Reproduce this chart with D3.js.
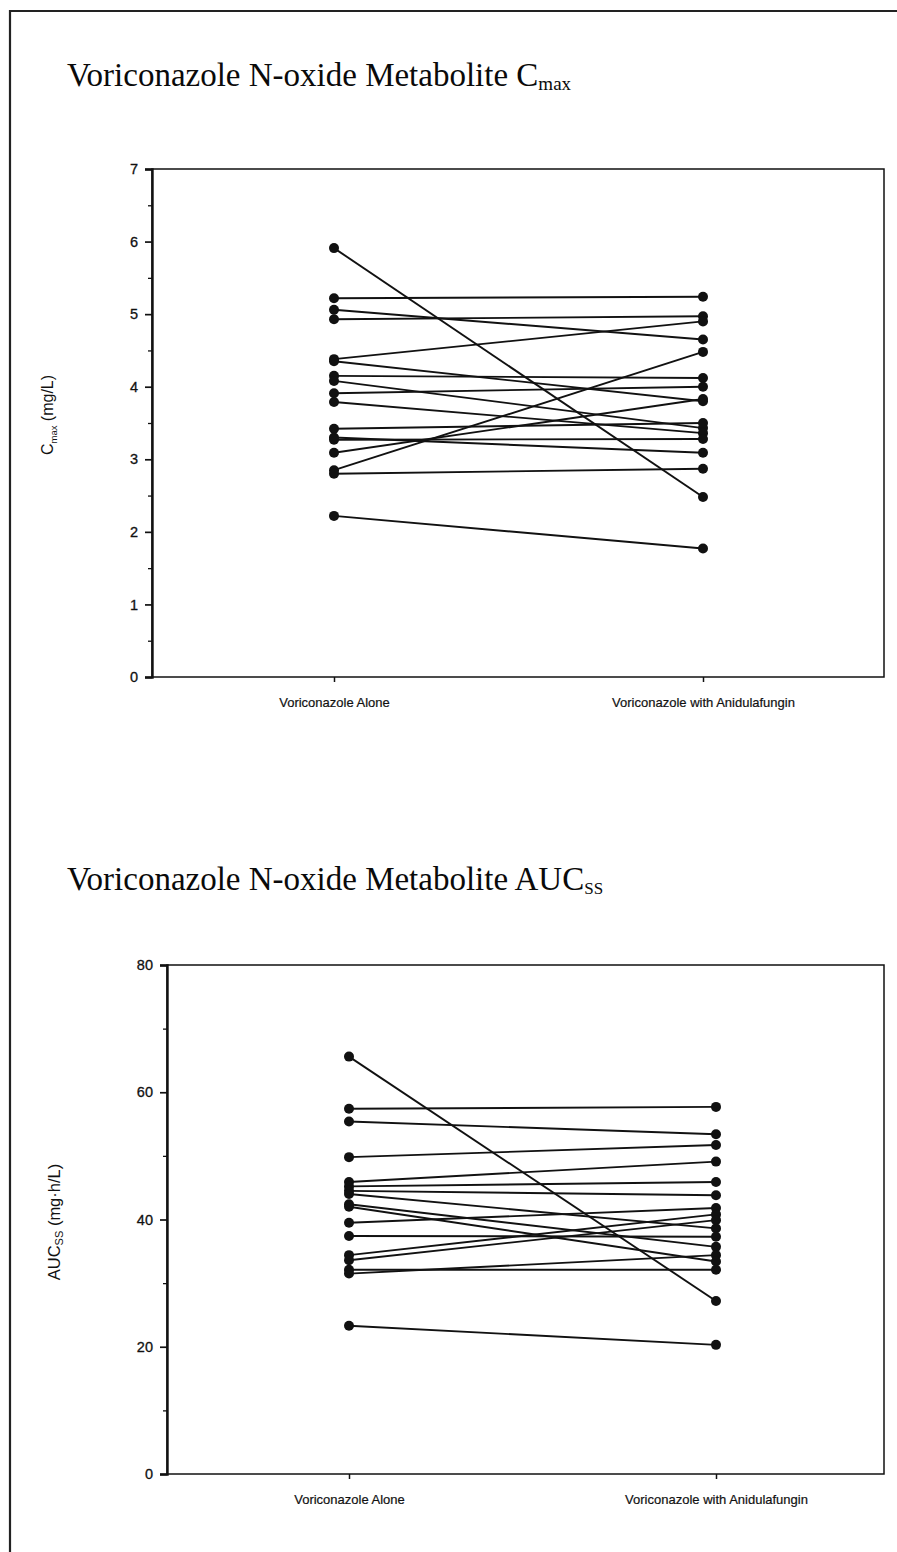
<!DOCTYPE html>
<html>
<head>
<meta charset="utf-8">
<script src="https://cdn.jsdelivr.net/npm/d3@7"></script>
<style>
  html, body { margin: 0; padding: 0; background: #fff; }
  svg { display: block; }
</style>
</head>
<body>
<svg id="chart" width="897" height="1552"></svg>
<script>
// Paired subject values: voriconazole N-oxide metabolite, alone vs. with anidulafungin
const categories = ["Voriconazole Alone", "Voriconazole with Anidulafungin"];

const cmaxAlone   = [5.91, 5.22, 5.06, 4.93, 4.38, 4.35, 4.15, 4.08, 3.91, 3.79, 3.42, 3.30, 3.27, 3.09, 2.85, 2.80, 2.22];
const cmaxWithAnd = [2.48, 5.24, 4.65, 4.97, 4.90, 3.80, 4.12, 3.43, 4.00, 3.36, 3.50, 3.09, 3.28, 3.83, 4.48, 2.87, 1.77];

const aucAlone    = [65.6, 57.4, 55.4, 49.8, 45.9, 45.2, 44.5, 44.0, 42.4, 39.5, 37.4, 34.4, 33.6, 32.1, 31.5, 42.0, 23.3];
const aucWithAnd  = [27.2, 57.7, 53.4, 51.7, 49.1, 45.9, 43.8, 38.6, 35.7, 41.8, 37.3, 40.8, 39.9, 32.1, 34.4, 33.4, 20.3];

const cmaxTicks = [0, 1, 2, 3, 4, 5, 6, 7];
const cmaxMinor = [0.5, 1.5, 2.5, 3.5, 4.5, 5.5, 6.5];
const aucTicks  = [0, 20, 40, 60, 80];
const aucMinor  = [10, 30, 50, 70];

const svg = d3.select("#chart");
const ink = "#111";
const sans = "'Liberation Sans', Arial, sans-serif";

// outer frame of the figure
svg.append("path")
  .attr("d", "M10,1552 V11 H897")
  .attr("fill", "none").attr("stroke", "#222").attr("stroke-width", 2.2);

function title(y, main, sub, subSize) {
  const t = svg.append("text")
    .attr("x", 67).attr("y", y)
    .attr("font-family", "'Liberation Serif', 'Times New Roman', serif")
    .attr("font-size", 33).attr("fill", "#0a0a0a");
  t.append("tspan").text(main);
  t.append("tspan").attr("font-size", subSize).attr("dy", 4).text(sub);
}

function panel(cfg) {
  const { left, right, top, bottom, domain, ticks, minor, alone, withAnd, xAlone, xWith } = cfg;
  const g = svg.append("g");

  const y = d3.scaleLinear().domain(domain).range([bottom, top]);
  const x = d3.scalePoint().domain(categories).range([xAlone, xWith]);

  // plot frame
  g.append("rect")
    .attr("x", left).attr("y", top)
    .attr("width", right - left).attr("height", bottom - top)
    .attr("fill", "none").attr("stroke", ink).attr("stroke-width", 1.5);

  // y axis with major and minor ticks
  const yAxis = d3.axisLeft(y).tickValues(ticks).tickSize(7).tickPadding(7).tickFormat(d3.format("d"));
  const ya = g.append("g").attr("transform", `translate(${left},0)`).call(yAxis);
  ya.select(".domain").attr("stroke", ink).attr("stroke-width", 2.4);
  ya.selectAll(".tick line").attr("stroke", ink).attr("stroke-width", 1.7);
  ya.selectAll(".tick text")
    .attr("font-family", sans).attr("font-size", 14.5).attr("fill", ink)
    .attr("stroke", ink).attr("stroke-width", 0.3);

  const ym = d3.axisLeft(y).tickValues(minor).tickSize(4).tickFormat("");
  const yma = g.append("g").attr("transform", `translate(${left},0)`).call(ym);
  yma.select(".domain").remove();
  yma.selectAll(".tick line").attr("stroke", ink).attr("stroke-width", 1.3);

  // x axis: category ticks below the frame
  const xAxis = d3.axisBottom(x).tickSize(5).tickPadding(16);
  const xa = g.append("g").attr("transform", `translate(0,${bottom})`).call(xAxis);
  xa.select(".domain").remove();
  xa.selectAll(".tick line").attr("stroke", ink).attr("stroke-width", 1.5);
  xa.selectAll(".tick text")
    .attr("font-family", sans).attr("font-size", 13).attr("fill", ink)
    .attr("stroke", ink).attr("stroke-width", 0.2);

  // paired lines
  const pairs = alone.map((a, i) => [a, withAnd[i]]);
  g.append("g").selectAll("line").data(pairs).join("line")
    .attr("x1", x(categories[0])).attr("x2", x(categories[1]))
    .attr("y1", d => y(d[0])).attr("y2", d => y(d[1]))
    .attr("stroke", ink).attr("stroke-width", 1.9);

  // subject points
  const pts = alone.map(v => [categories[0], v]).concat(withAnd.map(v => [categories[1], v]));
  g.append("g").selectAll("circle").data(pts).join("circle")
    .attr("cx", d => x(d[0])).attr("cy", d => y(d[1]))
    .attr("r", 5).attr("fill", ink);

  return g;
}

// ---- Cmax panel ----
title(86, "Voriconazole N-oxide Metabolite C", "max", 19);
panel({
  left: 152, right: 884, top: 169, bottom: 677,
  domain: [0, 7], ticks: cmaxTicks, minor: cmaxMinor,
  alone: cmaxAlone, withAnd: cmaxWithAnd, xAlone: 334, xWith: 703
});
{
  const t = svg.append("text")
    .attr("transform", "translate(53,415) rotate(-90)")
    .attr("text-anchor", "middle")
    .attr("font-family", sans)
    .attr("font-size", 16).attr("fill", ink);
  t.append("tspan").text("C");
  t.append("tspan").attr("font-size", 9.5).attr("dy", 4).text("max");
  t.append("tspan").attr("dy", -4).text(" (mg/L)");
}

// ---- AUCss panel ----
title(890, "Voriconazole N-oxide Metabolite AUC", "SS", 17);
panel({
  left: 167, right: 884, top: 965, bottom: 1474,
  domain: [0, 80], ticks: aucTicks, minor: aucMinor,
  alone: aucAlone, withAnd: aucWithAnd, xAlone: 349, xWith: 716
});
{
  const t = svg.append("text")
    .attr("transform", "translate(60,1222) rotate(-90)")
    .attr("text-anchor", "middle")
    .attr("font-family", sans)
    .attr("font-size", 16.5).attr("fill", ink);
  t.append("tspan").text("AUC");
  t.append("tspan").attr("font-size", 11).attr("dy", 3).text("SS");
  t.append("tspan").attr("dy", -3).text(" (mg\u00b7h/L)");
}
</script>
</body>
</html>
